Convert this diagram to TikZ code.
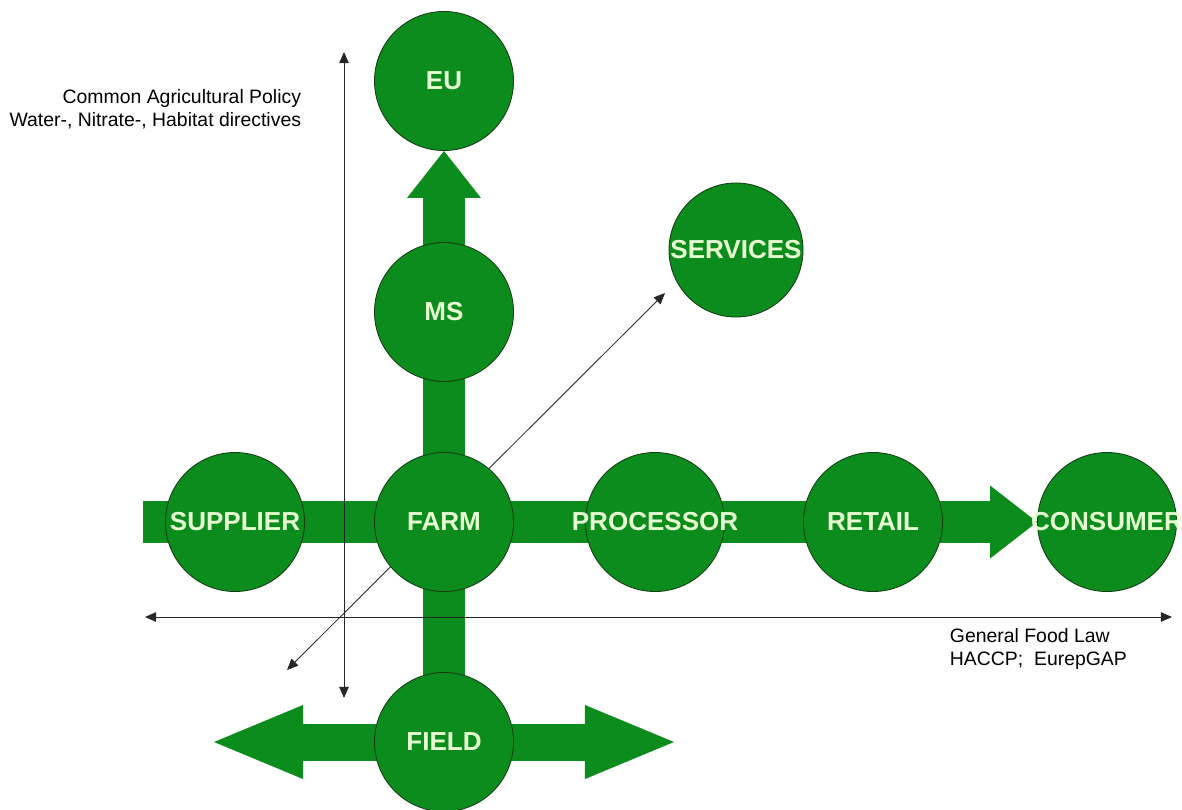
\documentclass[tikz,border=0pt]{standalone}
\usepackage{fontspec}
\setmainfont{Liberation Sans}
\usetikzlibrary{arrows.meta}
\definecolor{chaingreen}{RGB}{12,140,28}
\definecolor{labelgreen}{RGB}{230,255,210}
\definecolor{rimgreen}{RGB}{20,60,20}
\pgfdeclarelayer{bars}
\pgfdeclarelayer{lines}
\pgfsetlayers{bars,lines,main}
\newcommand{\actorname}[1]{\makebox[0pt]{#1}}

\tikzset{
  actor/.style={circle, draw=rimgreen, line width=0.6pt, fill=chaingreen, inner sep=0pt,
    minimum size=3.475cm, text=labelgreen, font=\fontsize{18.5}{20}\selectfont\bfseries},
  chainbar/.style={draw=chaingreen, line width=1.05cm},
  fieldbar/.style={draw=chaingreen, line width=0.925cm},
  thinarrow/.style={draw=black!85, line width=0.6pt,
    {Triangle[length=0.28cm, width=0.24cm]}-{Triangle[length=0.28cm, width=0.24cm]}},
  lawtext/.style={font=\fontsize{13.8}{16.4}\selectfont, text=black}
}

\begin{document}
\begin{tikzpicture}[x=0.025cm, y=-0.025cm]
  \useasboundingbox (0,0) rectangle (1182,809);

  \node[actor] (eu) at (444,81) {\actorname{EU}};
  \node[actor] (ms) at (444,312) {\actorname{MS}};
  \node[actor, minimum size=3.35cm] (services) at (736,250) {\actorname{SERVICES}};
  \node[actor] (supplier) at (235,522) {\actorname{SUPPLIER}};
  \node[actor] (farm) at (444,522) {\actorname{FARM}};
  \node[actor] (processor) at (655,522) {\actorname{PROCESSOR}};
  \node[actor] (retail) at (873,522) {\actorname{RETAIL}};
  \node[actor] (consumer) at (1107,522) {\actorname{CONSUMER}};
  \node[actor] (field) at (444,742) {\actorname{FIELD}};

  \coordinate (chainstart) at (143,522);
  \coordinate (fieldwest) at (214,742);
  \coordinate (fieldeast) at (674,742);
  \coordinate (policytop) at (344,52);
  \coordinate (policybottom) at (344,698);
  \coordinate (lawleft) at (145,617);
  \coordinate (lawright) at (1172,617);
  \coordinate (servicesfoot) at (287,670);
  \coordinate (servicestip) at (665,293);

  \begin{pgfonlayer}{bars}
    \draw[chainbar, -{Triangle[line width=0pt, length=1.175cm, width=1.825cm]}] (chainstart) -- (consumer.west);
    \draw[chainbar, -{Triangle[line width=0pt, length=1.175cm, width=1.85cm]}] (field.center) -- (eu.south);
    \draw[fieldbar, {Triangle[line width=0pt, length=2.225cm, width=1.85cm]}-{Triangle[line width=0pt, length=2.225cm, width=1.85cm]}] (fieldwest) -- (fieldeast);
  \end{pgfonlayer}

  \begin{pgfonlayer}{lines}
    \draw[thinarrow] (policytop) -- (policybottom);
    \draw[thinarrow] (lawleft) -- (lawright);
    \draw[thinarrow] (servicesfoot) -- (servicestip);
  \end{pgfonlayer}

  \node[lawtext, align=right, anchor=east] (policy) at (306,109) {Common Agricultural Policy\\Water-, Nitrate-, Habitat directives};
  \node[lawtext, align=left, anchor=west] (foodlaw) at (945,649) {General Food Law\\HACCP;\ \ EurepGAP};
\end{tikzpicture}
\end{document}
